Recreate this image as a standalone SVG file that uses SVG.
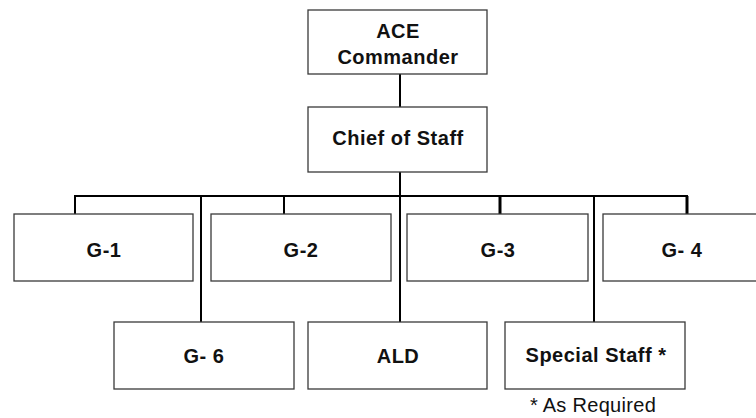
<svg xmlns="http://www.w3.org/2000/svg" width="756" height="418" viewBox="0 0 756 418">
<style>
.box{fill:#fff;stroke:#3a3a3a;stroke-width:1.3}
.lbl{font-family:"Liberation Sans",Arial,sans-serif;font-size:20px;font-weight:bold;text-anchor:middle;fill:#111;letter-spacing:0.5px}
.note{font-family:"Liberation Sans",Arial,sans-serif;font-size:20px;text-anchor:middle;fill:#111;letter-spacing:0.3px}
.con{stroke:#000;stroke-width:2;fill:none}
.thick{stroke:#000;stroke-width:3;fill:none}
</style>
<rect width="756" height="418" fill="#fff"/>
<g id="connectors">
<line class="con" x1="400" y1="74" x2="400" y2="107"/>
<line class="con" x1="400" y1="172" x2="400" y2="322"/>
<line class="con" x1="74" y1="196" x2="688" y2="196"/>
<line class="con" x1="75" y1="196" x2="75" y2="214"/>
<line class="con" x1="284" y1="196" x2="284" y2="214"/>
<line class="thick" x1="500" y1="196" x2="500" y2="214"/>
<line class="thick" x1="687" y1="196" x2="687" y2="214"/>
<line class="con" x1="201" y1="196" x2="201" y2="322"/>
<line class="con" x1="594" y1="196" x2="594" y2="322"/>
</g>
<g id="ace">
<rect class="box" x="308" y="10" width="179" height="64"/>
<text class="lbl" x="398" y="38">ACE</text>
<text class="lbl" x="398" y="64">Commander</text>
</g>
<g id="chief">
<rect class="box" x="308" y="107" width="179" height="65"/>
<text class="lbl" x="398" y="145">Chief of Staff</text>
</g>
<g id="g1">
<rect class="box" x="14" y="214" width="179" height="67"/>
<text class="lbl" x="104" y="257">G-1</text>
</g>
<g id="g2">
<rect class="box" x="211" y="214" width="180" height="67"/>
<text class="lbl" x="301" y="257">G-2</text>
</g>
<g id="g3">
<rect class="box" x="407" y="214" width="181" height="67"/>
<text class="lbl" x="498" y="257">G-3</text>
</g>
<g id="g4">
<rect class="box" x="603" y="214" width="160" height="67"/>
<text class="lbl" x="682" y="257">G- 4</text>
</g>
<g id="g6">
<rect class="box" x="114" y="322" width="180" height="67"/>
<text class="lbl" x="204" y="363">G- 6</text>
</g>
<g id="ald">
<rect class="box" x="308" y="322" width="179" height="67"/>
<text class="lbl" x="398" y="363">ALD</text>
</g>
<g id="special">
<rect class="box" x="505" y="322" width="180" height="67"/>
<text class="lbl" x="596" y="362">Special Staff *</text>
</g>
<text class="note" x="593" y="412">* As Required</text>
</svg>
